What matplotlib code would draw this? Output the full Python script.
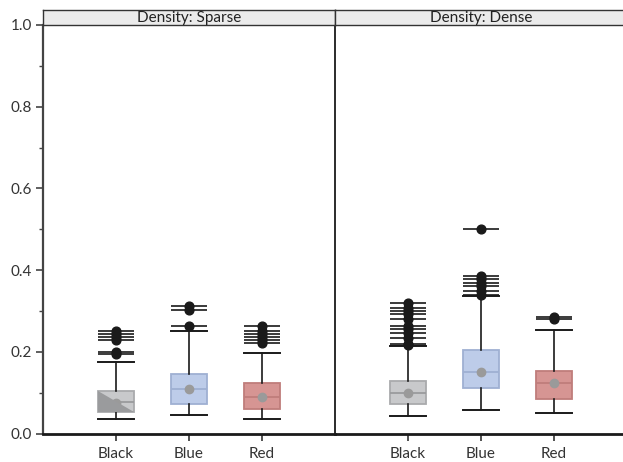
import matplotlib
matplotlib.use("Agg")
import matplotlib.pyplot as plt
from matplotlib.patches import Polygon

plt.rcParams['font.family'] = ['Lato', 'DejaVu Sans']

categories = ["Black", "Blue", "Red"]
panels = ["Density: Sparse", "Density: Dense"]

# per panel, per category: whislo, q1, med, mean, q3, whishi
sparse_whislo = [0.035, 0.045, 0.036]
sparse_q1 = [0.053, 0.072, 0.061]
sparse_med = [0.077, 0.108, 0.089]
sparse_mean = [0.075, 0.108, 0.089]
sparse_q3 = [0.105, 0.146, 0.123]
sparse_whishi = [0.174, 0.251, 0.198]
sparse_fliers = [
    [0.195, 0.200, 0.229, 0.236, 0.243, 0.251],
    [0.263, 0.303, 0.313],
    [0.221, 0.228, 0.236, 0.243, 0.252, 0.262],
]

dense_whislo = [0.043, 0.058, 0.051]
dense_q1 = [0.072, 0.111, 0.084]
dense_med = [0.100, 0.150, 0.123]
dense_mean = [0.100, 0.150, 0.123]
dense_q3 = [0.129, 0.205, 0.154]
dense_whishi = [0.214, 0.337, 0.254]
dense_fliers = [
    [0.217, 0.219, 0.235, 0.247, 0.255, 0.263, 0.281, 0.292, 0.301, 0.308, 0.319],
    [0.340, 0.350, 0.360, 0.368, 0.378, 0.386, 0.500],
    [0.280, 0.286],
]

fill_colors = ["#c8c9cb", "#bdcce9", "#d69593"]
edge_colors = ["#a9aaac", "#9fb0d2", "#bf7d7b"]

W, H = 623, 462
fig = plt.figure(figsize=(W / 100, H / 100), dpi=100)

ax_left = 43 / W
ax_w = 292 / W
ax2_left = 335 / W
ax_bottom = (H - 433.5) / H
ax_top = 1 - 25 / H
ax_h = ax_top - ax_bottom
strip_h = 15 / H

data = [
    (sparse_whislo, sparse_q1, sparse_med, sparse_mean, sparse_q3, sparse_whishi, sparse_fliers),
    (dense_whislo, dense_q1, dense_med, dense_mean, dense_q3, dense_whishi, dense_fliers),
]

positions = [1, 2, 3]
bw = 0.5
for pi, (left, title) in enumerate(zip([ax_left, ax2_left], panels)):
    ax = fig.add_axes([left, ax_bottom, ax_w, ax_h])
    wl, q1, med, mean, q3, wh, fl = data[pi]
    for i in range(3):
        st = [dict(whislo=wl[i], q1=q1[i], med=med[i], mean=mean[i], q3=q3[i],
                   whishi=wh[i], fliers=fl[i], label=categories[i])]
        ax.hlines(fl[i], positions[i] - bw / 2, positions[i] + bw / 2,
                  colors="#3a3a3a", linewidth=1.4, zorder=1)
        ax.bxp(st, positions=[positions[i]], widths=bw, patch_artist=True,
               showmeans=True, showcaps=True,
               boxprops=dict(facecolor=fill_colors[i], edgecolor=edge_colors[i], linewidth=1.3),
               medianprops=dict(color=edge_colors[i] if i != 0 else "#9a9b9d", linewidth=1.3),
               whiskerprops=dict(color="#1a1a1a", linewidth=1.2),
               capprops=dict(color="#1a1a1a", linewidth=1.4),
               capwidths=bw,
               meanprops=dict(marker="o", markerfacecolor="#9a9a9a", markeredgecolor="#9a9a9a",
                              markersize=6),
               flierprops=dict(marker="o", markerfacecolor="#1a1a1a", markeredgecolor="#1a1a1a",
                               markersize=6.3),
               manage_ticks=False)
        if pi == 0 and i == 0:
            x0, x1 = positions[i] - bw / 2, positions[i] + bw / 2
            tri = Polygon([(x0, q3[i]), (x0, q1[i]), (x1, q1[i])], closed=True,
                          facecolor="#9a9b9d", edgecolor="none", zorder=2.5)
            ax.add_patch(tri)

    ax.set_xlim(0, 4)
    ax.set_ylim(0, 1.0)
    ax.set_xticks(positions)
    ax.set_xticklabels(categories, fontsize=11, color="#333333")
    ax.tick_params(axis="x", direction="out", length=5, width=1.2, color="#333333", pad=5)
    ax.spines["top"].set_visible(False)
    ax.spines["bottom"].set_linewidth(2)
    ax.spines["bottom"].set_color("#1a1a1a")
    if pi == 0:
        ax.set_yticks([0, 0.2, 0.4, 0.6, 0.8, 1.0])
        ax.set_yticklabels(["0.0", "0.2", "0.4", "0.6", "0.8", "1.0"], fontsize=11, color="#333333")
        ax.set_yticks([0.1, 0.3, 0.5, 0.7, 0.9], minor=True)
        ax.tick_params(axis="y", which="major", direction="out", length=5, width=1.2, color="#444444", pad=3)
        ax.tick_params(axis="y", which="minor", direction="out", length=3, width=1.0, color="#444444")
        ax.spines["left"].set_linewidth(1.6)
        ax.spines["left"].set_color("#444444")
        ax.spines["right"].set_linewidth(1.3)
        ax.spines["right"].set_color("#1a1a1a")
    else:
        ax.set_yticks([])
        ax.spines["left"].set_visible(False)
        ax.spines["right"].set_visible(False)
    ax.patch.set_alpha(0)

    sax = fig.add_axes([left, ax_top, ax_w, strip_h])
    sax.set_xticks([])
    sax.set_yticks([])
    sax.set_facecolor("#ebebeb")
    for s in sax.spines.values():
        s.set_linewidth(1.0)
        s.set_color("#333333")
    sax.text(0.5, 0.45, title, ha="center", va="center", fontsize=11, color="#222222",
             transform=sax.transAxes)

fig.savefig("out.png", dpi=100)
